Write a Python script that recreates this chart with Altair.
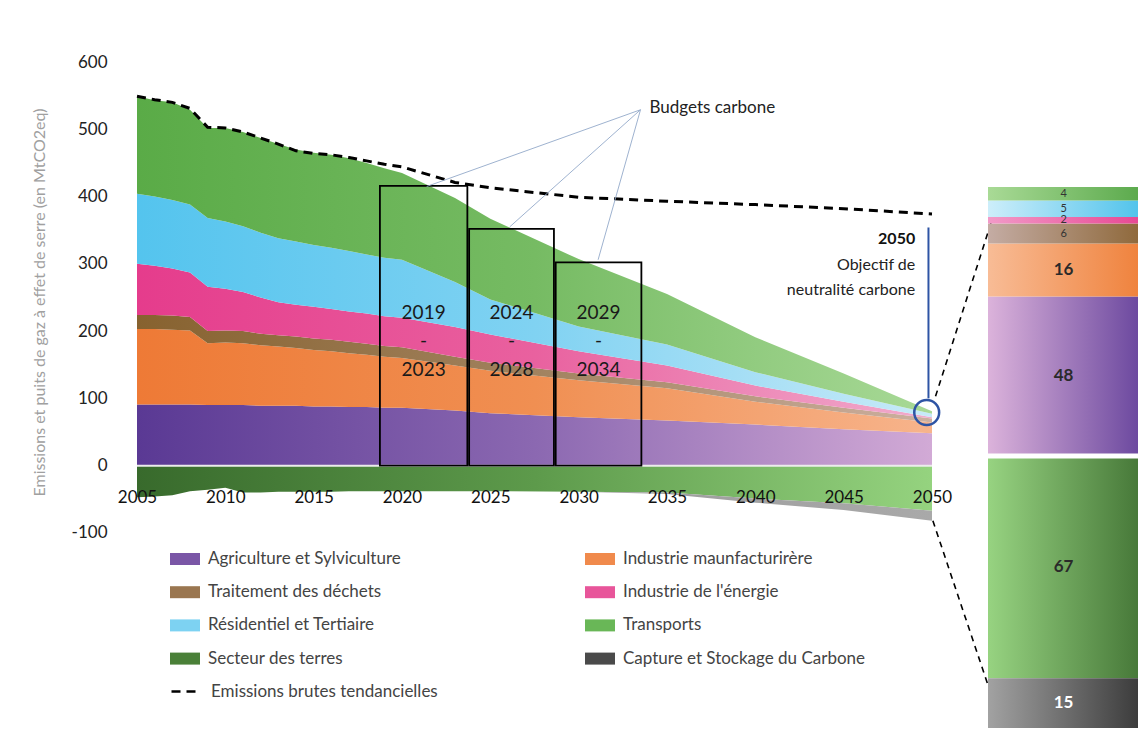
import altair as alt
import numpy as np
import pandas as pd

# ---------------- data ----------------
years = list(range(2005, 2021)) + [2023, 2025, 2030, 2035, 2040, 2045, 2050]

agri      = [91, 91, 91, 91, 90, 90, 90, 89, 89, 89, 88, 88, 87, 87, 86, 86, 82, 78, 72, 67, 61, 54, 48]
indus     = [112, 112, 111, 110, 92, 93, 92, 90, 88, 86, 84, 82, 80, 78, 76, 74, 67, 63, 55, 48, 34, 25, 16]
dechets   = [21, 21, 21, 20, 18, 18, 18, 17, 17, 17, 17, 17, 17, 16, 16, 16, 13, 12, 10, 9, 8, 7, 6]
energie   = [76, 73, 70, 66, 66, 62, 58, 54, 49, 47, 47, 46, 45, 45, 44, 44, 44, 42, 33, 25, 16, 9, 2]
resid     = [104, 103, 102, 101, 102, 100, 98, 96, 95, 94, 92, 91, 90, 88, 87, 86, 67, 52, 37, 31, 20, 12, 5]
transport = [145, 143, 145, 141, 134, 139, 140, 141, 140, 137, 137, 138, 138, 136, 133, 129, 125, 120, 100, 75, 52, 30, 4]
terres    = [-47, -46, -44, -38, -36, -33, -40, -40, -39, -39, -39, -39, -38, -38, -38, -38, -38, -38, -39, -40, -49, -56, -67]
ccs       = [0, 0, 0, 0, 0, 0, 0, 0, 0, 0, 0, 0, 0, 0, 0, 0, 0, 0, 0, -2, -6, -10, -15]
emissions = [549, 544, 540, 531, 503, 502, 496, 487, 478, 468, 464, 462, 458, 453, 448, 444, 421, 413, 399, 393, 388, 382, 374]

series_names = ["Agriculture et Sylviculture", "Industrie maunfacturirère",
                "Traitement des déchets", "Industrie de l'énergie",
                "Résidentiel et Tertiaire", "Transports",
                "Secteur des terres", "Capture et Stockage du Carbone"]
emissions_name = "Emissions brutes tendancielles"

budget_labels = ["2019\n-\n2023", "2024\n-\n2028", "2029\n-\n2034"]
budget_start = [2018.75, 2023.8, 2028.7]
budget_end = [2023.7, 2028.6, 2033.55]
budget_value = [416, 352, 302]

x_ticks = [2005, 2010, 2015, 2020, 2025, 2030, 2035, 2040, 2045, 2050]
y_ticks = [-100, 0, 100, 200, 300, 400, 500, 600]

# annotation geometry (data space)
leader_from = (2033.5, 529)
leader_to_x = [2021.4, 2026.1, 2031.1]
leader_to_y = [415, 355, 306]

# ---------------- styles ----------------
area_grad = {
    series_names[0]: ["#5a3994", "#8b68b1", "#d2aad6"],
    series_names[1]: ["#ee7a36", "#f08f52", "#f7b48c"],
    series_names[2]: ["#87622f", "#a1825f", "#cdb0a0"],
    series_names[3]: ["#e53c8c", "#e9619f", "#f1accd"],
    series_names[4]: ["#54c4ee", "#80d2f2", "#c8eaf8"],
    series_names[5]: ["#5aab47", "#76bb63", "#a8d997"],
    series_names[6]: ["#386a2c", "#5d9a4b", "#95d37f"],
    series_names[7]: ["#8a8a8a", "#9a9a9a", "#a9a9a9"],
}
inset_grad = {
    series_names[0]: ["#dcb3db", "#5b3996"],
    series_names[1]: ["#f8bc96", "#ee7a30"],
    series_names[2]: ["#c4aca4", "#875f2c"],
    series_names[3]: ["#f29ac8", "#e63c8c"],
    series_names[4]: ["#cdeefa", "#40bde9"],
    series_names[5]: ["#a9da96", "#50a342"],
    series_names[6]: ["#97d381", "#3b6b2e"],
    series_names[7]: ["#a2a2a2", "#2c2c2c"],
}
legend_color = dict(zip(series_names, ["#7a56a6", "#f08a4c", "#9a7650", "#e8559a",
                                       "#7dd2f2", "#69b757", "#4a8038", "#4a4a4a"]))
# legend is filled column by column: list the entries so that rows read left to right
legend_order = [series_names[i] for i in (0, 2, 4, 6, 1, 3, 5, 7)]

FONT = "Lato"

# ---------------- tables ----------------
values_by_series = [agri, indus, dechets, energie, resid, transport, terres, ccs]
rows = []
cum_pos = np.zeros(len(years))
cum_neg = np.zeros(len(years))
for name, vals in zip(series_names, values_by_series):
    v = np.array(vals, dtype=float)
    if name in (series_names[6], series_names[7]):
        lo, hi = cum_neg.copy(), cum_neg + v
        cum_neg = hi
    else:
        lo, hi = cum_pos.copy(), cum_pos + v
        cum_pos = hi
    for y, a, b in zip(years, lo, hi):
        rows.append({"year": y, "series": name, "lo": a, "hi": b})
area_df = pd.DataFrame(rows)

emis_df = pd.DataFrame({"year": years, "value": emissions, "name": emissions_name})
box_df = pd.DataFrame({"x0": budget_start, "x1": budget_end, "top": budget_value, "label": budget_labels})
leader_df = pd.DataFrame({"x": [leader_from[0]] * 3, "y": [leader_from[1]] * 3,
                          "x2": leader_to_x, "y2": leader_to_y})

# inset: 2050 values
inset_rows = []
cp, cn = 0.0, 0.0
for name, vals in zip(series_names, values_by_series):
    v = float(vals[-1])
    if name in (series_names[6], series_names[7]):
        lo, hi = cn, cn + v
        cn = hi
    else:
        lo, hi = cp, cp + v
        cp = hi
    inset_rows.append({"series": name, "lo": lo, "hi": hi, "mid": (lo + hi) / 2,
                       "label": str(int(abs(v)))})
inset_df = pd.DataFrame(inset_rows)

# ---------------- scales ----------------
xs = alt.Scale(domain=[2005, 2050], nice=False, zero=False)
ys = alt.Scale(domain=[-390, 600], nice=False, zero=False)
ys_inset = alt.Scale(domain=[-82, 118.7], nice=False, zero=False)


def X(field, **kw):
    return alt.X(field, scale=xs, axis=None, **kw)


def Y(field, **kw):
    return alt.Y(field, scale=ys, axis=None, **kw)


def XD(v):
    return alt.X(datum=v, scale=xs, axis=None)


def YD(v, scale=ys):
    return alt.Y(datum=v, scale=scale, axis=None)


def grad(cols):
    n = len(cols)
    stops = [alt.GradientStop(color=c, offset=i / (n - 1)) for i, c in enumerate(cols)]
    return alt.Gradient(gradient="linear", stops=stops, x1=0, x2=1, y1=0, y2=0)


layers = []
for i, name in enumerate(series_names):
    if i == 0:
        xenc = alt.X("year:Q", scale=xs,
                     axis=alt.Axis(values=x_ticks, format="d", orient="bottom", offset=-239,
                                   domain=False, ticks=False, grid=False, labelPadding=0,
                                   labelFontSize=17, labelColor="#111", labelFont=FONT,
                                   labelFlush=False, title=None, zindex=2))
        yenc = alt.Y("hi:Q", scale=ys,
                     axis=alt.Axis(values=y_ticks, domain=False, ticks=False, grid=False,
                                   labelPadding=30, labelFontSize=17, labelColor="#222",
                                   labelFont=FONT,
                                   labelExpr="replace(datum.label, '\u2212', '-')",
                                   title="Emissions et puits de gaz à effet de serre (en MtCO2eq)",
                                   titleFont=FONT, titleFontSize=16, titleFontWeight="normal",
                                   titleColor="#a0a0a0", titleX=-90, titleY=240))
    else:
        xenc = X("year:Q")
        yenc = Y("hi:Q")
    layers.append(
        alt.Chart(area_df).transform_filter(alt.datum.series == name)
        .mark_area(color=grad(area_grad[name]))
        .encode(x=xenc, y=yenc, y2="lo:Q")
    )

# zero separator
layers.append(
    alt.Chart(area_df).transform_filter(alt.datum.series == series_names[0])
    .transform_calculate(zero="0")
    .mark_line(color="#ececec", strokeWidth=2)
    .encode(x=X("year:Q"), y=Y("zero:Q"))
)

# legend (fill) from an empty dummy layer
layers.append(
    alt.Chart(area_df).transform_filter("datum.year < 0")
    .mark_point(filled=True, opacity=1)
    .encode(
        x=X("year:Q"), y=Y("hi:Q"),
        fill=alt.Fill("series:N",
                      scale=alt.Scale(domain=legend_order,
                                      range=[legend_color[n] for n in legend_order]),
                      legend=alt.Legend(orient="none", legendX=33, legendY=482, columns=2,
                                        columnPadding=184, rowPadding=10.2, title=None,
                                        symbolType="M-1,-0.4L1,-0.4L1,0.4L-1,0.4Z",
                                        symbolSize=900, symbolOpacity=1, symbolStrokeWidth=0,
                                        labelFont=FONT, labelFontSize=17, labelColor="#444",
                                        labelLimit=400, labelOffset=8)))
)

# trend line
layers.append(
    alt.Chart(emis_df).mark_line(color="black", strokeWidth=3)
    .encode(x=X("year:Q"), y=Y("value:Q"),
            strokeDash=alt.StrokeDash("name:N",
                                      scale=alt.Scale(domain=[emissions_name], range=[[9, 6]]),
                                      legend=alt.Legend(orient="none", legendX=33, legendY=613,
                                                        title=None, symbolType="stroke",
                                                        symbolSize=900, symbolStrokeWidth=2.5,
                                                        symbolStrokeColor="black",
                                                        labelFont=FONT, labelFontSize=17,
                                                        labelColor="#444", labelLimit=400,
                                                        labelOffset=8)))
)

# carbon budget boxes
layers.append(
    alt.Chart(box_df).mark_rect(fillOpacity=0, stroke="black", strokeWidth=1.8)
    .encode(x=X("x0:Q"), x2="x1:Q", y=Y("top:Q"), y2=alt.Y2(datum=0))
)
layers.append(
    alt.Chart(box_df).transform_calculate(mid="(datum.x0 + datum.x1) / 2")
    .mark_text(lineBreak="\n", lineHeight=28.5, fontSize=19, font=FONT, color="#1a1a1a",
               baseline="middle")
    .encode(x=X("mid:Q"), y=YD(227), text="label:N")
)

# leader lines to "Budgets carbone"
layers.append(
    alt.Chart(leader_df).mark_rule(color="#93a9c9", strokeWidth=0.9)
    .encode(x=X("x:Q"), y=Y("y:Q"), x2="x2:Q", y2="y2:Q")
)
layers.append(
    alt.Chart(pd.DataFrame({"t": ["Budgets carbone"]}))
    .mark_text(align="left", baseline="middle", fontSize=17, font=FONT, color="#222", dx=9)
    .encode(x=XD(leader_from[0]), y=YD(leader_from[1] + 3), text="t:N")
)

# 2050 objective annotation
layers.append(
    alt.Chart(pd.DataFrame({"t": ["2050"]}))
    .mark_text(align="right", baseline="middle", fontSize=16, font=FONT, fontWeight="bold", color="#111")
    .encode(x=XD(2049.05), y=YD(337), text="t:N")
)
layers.append(
    alt.Chart(pd.DataFrame({"t": ["Objectif de\nneutralité carbone"]}))
    .mark_text(align="right", baseline="middle", fontSize=16, font=FONT, color="#222",
               lineBreak="\n", lineHeight=25)
    .encode(x=XD(2049.05), y=YD(298), text="t:N")
)
layers.append(
    alt.Chart(pd.DataFrame({"a": [0]})).mark_rule(color="#2e54a4", strokeWidth=2)
    .encode(x=XD(2049.8), y=YD(354), y2=alt.Y2(datum=100))
)
layers.append(
    alt.Chart(pd.DataFrame({"a": [0]})).mark_point(shape="circle", size=620, filled=False,
                                                  color="#2e54a4", strokeWidth=2.5, opacity=1)
    .encode(x=XD(2049.7), y=YD(79))
)

# connectors to the inset
conn_df = pd.DataFrame({"x": [2050.2, 2050.05], "y": [103, -82],
                        "x2": [2053.9, 2053.96], "y2": [407, -388]})
layers.append(
    alt.Chart(conn_df).mark_rule(color="black", strokeWidth=1.6, strokeDash=[6, 5])
    .encode(x=X("x:Q"), y=Y("y:Q"), x2="x2:Q", y2="y2:Q")
)

# ---------------- inset (2050 breakdown) ----------------
INSET_X0, INSET_X1 = 2053.17, 2063.0
INSET_MID = 2057.45
for name in series_names:
    layers.append(
        alt.Chart(inset_df).transform_filter(alt.datum.series == name)
        .mark_rect(color=grad(inset_grad[name]))
        .encode(x=XD(INSET_X0), x2=alt.X2(datum=INSET_X1),
                y=alt.Y("hi:Q", scale=ys_inset, axis=None), y2="lo:Q")
    )
layers.append(
    alt.Chart(pd.DataFrame({"a": [0]})).mark_rule(color="white", strokeWidth=5)
    .encode(x=XD(INSET_X0), x2=alt.X2(datum=INSET_X1), y=YD(0, ys_inset))
)
layers.append(
    alt.Chart(inset_df).transform_filter("abs(datum.hi - datum.lo) < 10")
    .mark_text(fontSize=11, font=FONT, color="#333", baseline="middle")
    .encode(x=XD(INSET_MID), y=alt.Y("mid:Q", scale=ys_inset, axis=None), text="label:N")
)
layers.append(
    alt.Chart(inset_df).transform_filter("abs(datum.hi - datum.lo) >= 10")
    .mark_text(fontSize=17, font=FONT, fontWeight="bold", baseline="middle")
    .encode(x=XD(INSET_MID), y=alt.Y("mid:Q", scale=ys_inset, axis=None), text="label:N",
            color=alt.condition(alt.datum.series == series_names[7],
                                alt.value("white"), alt.value("#2a2a2a")))
)

chart = (
    alt.layer(*layers)
    .resolve_scale(x="independent", y="independent")
    .properties(width=795, height=666, autosize=alt.AutoSizeParams(type="none"),
                padding={"left": 129, "top": 54, "right": 206, "bottom": 6})
    .configure(font=FONT)
    .configure_view(strokeWidth=0, stroke="transparent")
)

chart.save("out.html", embed_options={"renderer": "svg", "actions": False})
